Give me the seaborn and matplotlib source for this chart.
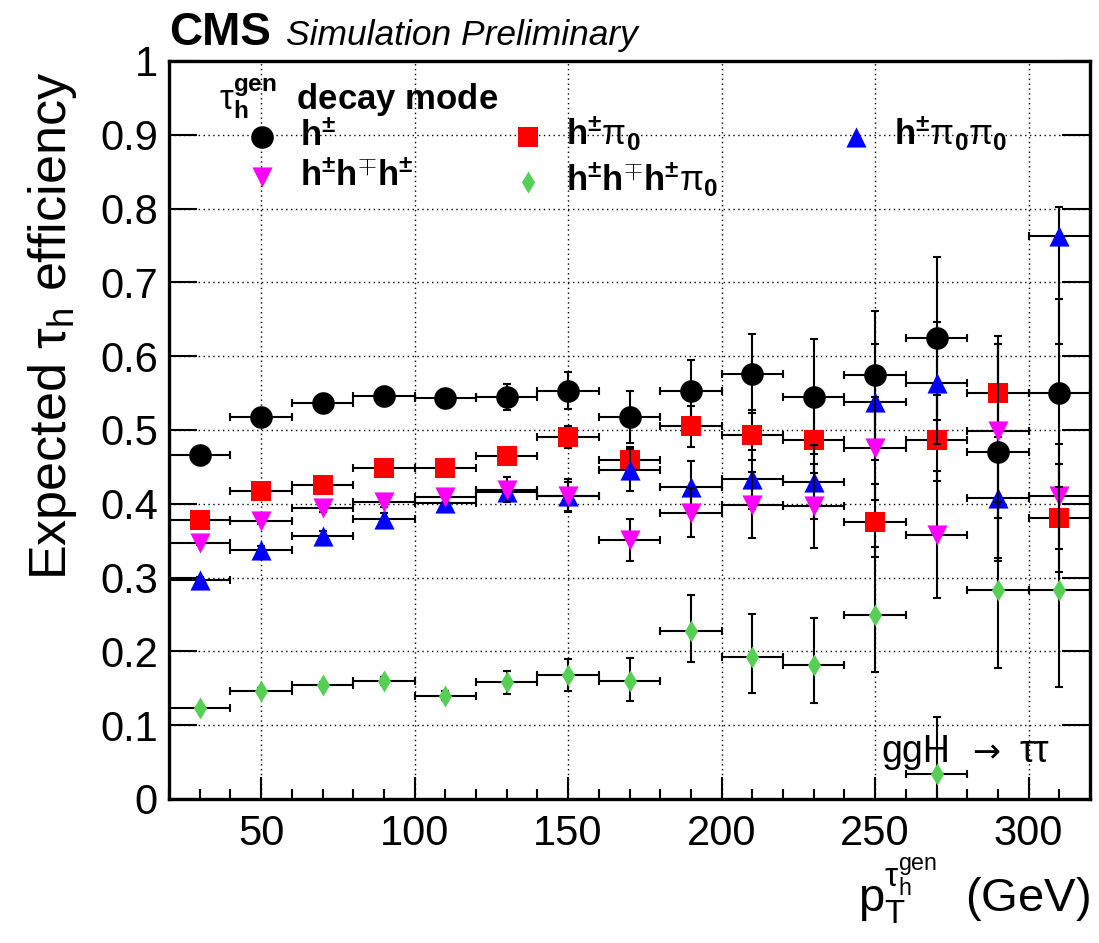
import numpy as np
import pandas as pd
import matplotlib
matplotlib.use("Agg")
import matplotlib.pyplot as plt
from matplotlib.ticker import MultipleLocator, FixedLocator, FuncFormatter
import seaborn as sns

# ---------------- data ----------------
pt_centers = [30, 50, 70, 90, 110, 130, 150, 170, 190, 210, 230, 250, 270, 290, 310]
pt_halfwidth = [10] * 15

eff_h = [0.466, 0.518, 0.536, 0.546, 0.543, 0.545, 0.553, 0.518, 0.553, 0.576,
         0.545, 0.574, 0.624, 0.470, 0.550]
err_h_lo = [0.004, 0.004, 0.005, 0.006, 0.007, 0.018, 0.025, 0.035, 0.040, 0.053,
            0.078, 0.087, 0.110, 0.147, 0.128]
err_h_hi = [0.004, 0.004, 0.005, 0.006, 0.007, 0.018, 0.025, 0.035, 0.042, 0.054,
            0.078, 0.087, 0.110, 0.147, 0.128]

eff_hpi0 = [0.378, 0.418, 0.426, 0.449, 0.449, 0.465, 0.490, 0.459, 0.505, 0.493,
            0.487, 0.376, 0.487, 0.550, 0.381]
err_hpi0_lo = [0.004, 0.005, 0.006, 0.007, 0.008, 0.010, 0.015, 0.018, 0.028, 0.034,
               0.045, 0.048, 0.056, 0.078, 0.073]
err_hpi0_hi = [0.004, 0.005, 0.006, 0.007, 0.008, 0.010, 0.015, 0.018, 0.027, 0.034,
               0.045, 0.051, 0.060, 0.078, 0.073]

eff_hpi0pi0 = [0.297, 0.338, 0.357, 0.380, 0.401, 0.416, 0.410, 0.446, 0.423, 0.433,
               0.430, 0.538, 0.564, 0.408, 0.763]
err_hpi0pi0_lo = [0.004, 0.005, 0.006, 0.008, 0.010, 0.012, 0.020, 0.028, 0.035, 0.040,
                  0.050, 0.078, 0.083, 0.082, 0.146]
err_hpi0pi0_hi = [0.004, 0.005, 0.006, 0.008, 0.010, 0.012, 0.020, 0.028, 0.035, 0.040,
                  0.050, 0.078, 0.083, 0.082, 0.039]

eff_3h = [0.347, 0.377, 0.394, 0.402, 0.409, 0.419, 0.411, 0.351, 0.388, 0.398,
          0.397, 0.475, 0.358, 0.499, 0.410]
err_3h_lo = [0.003, 0.004, 0.005, 0.006, 0.008, 0.017, 0.022, 0.028, 0.033, 0.045,
             0.057, 0.070, 0.086, 0.118, 0.071]
err_3h_hi = [0.003, 0.004, 0.005, 0.006, 0.008, 0.017, 0.022, 0.028, 0.033, 0.045,
             0.057, 0.070, 0.086, 0.118, 0.071]

eff_3hpi0 = [0.123, 0.146, 0.154, 0.160, 0.140, 0.158, 0.168, 0.160, 0.227, 0.193,
             0.181, 0.249, 0.034, 0.283, 0.283]
err_3hpi0_lo = [0.003, 0.004, 0.004, 0.005, 0.006, 0.016, 0.022, 0.027, 0.042, 0.049,
                0.051, 0.077, 0.034, 0.106, 0.131]
err_3hpi0_hi = [0.003, 0.004, 0.004, 0.005, 0.006, 0.016, 0.022, 0.031, 0.049, 0.058,
                0.064, 0.093, 0.077, 0.120, 0.140]

labels = [r'$\mathbf{h^{\pm}}$',
          r'$\mathbf{h^{\pm}}\mathrm{\pi}_{\mathbf{0}}$',
          r'$\mathbf{h^{\pm}}\mathrm{\pi}_{\mathbf{0}}\mathrm{\pi}_{\mathbf{0}}$',
          r'$\mathbf{h^{\pm}h^{\mp}h^{\pm}}$',
          r'$\mathbf{h^{\pm}h^{\mp}h^{\pm}}\mathrm{\pi}_{\mathbf{0}}$']
legend_title = r'$\mathrm{\tau}_{\mathbf{h}}^{\mathbf{gen}}$  decay mode'

yticks = [0.0, 0.1, 0.2, 0.3, 0.4, 0.5, 0.6, 0.7, 0.8, 0.9, 1.0]
xticks = [50, 100, 150, 200, 250, 300]

# ---------------- style ----------------
sns.set_theme(style="white")
plt.rcParams['font.family'] = ['Liberation Sans', 'DejaVu Sans']
plt.rcParams['mathtext.fontset'] = 'custom'
plt.rcParams['mathtext.rm'] = 'Liberation Sans'
plt.rcParams['mathtext.it'] = 'Liberation Sans:italic'
plt.rcParams['mathtext.bf'] = 'Liberation Sans:bold'
plt.rcParams['mathtext.sf'] = 'Liberation Sans'
for k in ['text.color', 'axes.labelcolor', 'xtick.color', 'ytick.color', 'axes.edgecolor']:
    plt.rcParams[k] = 'black'

W, H = 1099, 943
fig = plt.figure(figsize=(W / 100, H / 100), dpi=100)
L, R, T, B = 169, 1090, 61, 799
ax = fig.add_axes([L / W, 1 - B / H, (R - L) / W, (B - T) / H])

series = [
    (eff_h, err_h_lo, err_h_hi, 'o', '#000000', 265, labels[0]),
    (eff_hpi0, err_hpi0_lo, err_hpi0_hi, 's', '#ff0000', 205, labels[1]),
    (eff_hpi0pi0, err_hpi0pi0_lo, err_hpi0pi0_hi, '^', '#0000ff', 210, labels[2]),
    (eff_3h, err_3h_lo, err_3h_hi, 'v', '#ff00ff', 210, labels[3]),
    (eff_3hpi0, err_3hpi0_lo, err_3hpi0_hi, 'd', '#55d055', 125, labels[4]),
]

for i, (vals, lo, hi, mk, col, s, lab) in enumerate(series):
    df = pd.DataFrame({'pt': pt_centers, 'eff': vals})
    ax.errorbar(df['pt'], df['eff'], xerr=pt_halfwidth, yerr=[lo, hi], fmt='none',
                ecolor='black', elinewidth=1.5, capsize=2.8, capthick=1.5,
                zorder=3 + 2 * i)
    sns.scatterplot(data=df, x='pt', y='eff', marker=mk, color=col, s=s,
                    linewidth=0, label=lab, zorder=4 + 2 * i, ax=ax, legend=True)

ax.set_xlim(20, 320)
ax.set_ylim(0, 1)
ax.xaxis.set_major_locator(FixedLocator(xticks))
ax.xaxis.set_minor_locator(MultipleLocator(10))
ax.yaxis.set_major_locator(FixedLocator(yticks))
ax.yaxis.set_major_formatter(FuncFormatter(lambda v, p: f"{v:g}"))
ax.grid(True, which='major', linestyle=(0, (1, 2.5)), color='black', linewidth=1.0)
ax.set_axisbelow(True)
for sp in ax.spines.values():
    sp.set_linewidth(2.4)
    sp.set_color('black')
    sp.set_visible(True)
ax.tick_params(axis='x', which='major', direction='in', length=16, width=1.5,
               labelsize=30, pad=11, top=False, bottom=True)
ax.tick_params(axis='x', which='minor', direction='in', length=7, width=1.5,
               top=False, bottom=True)
ax.tick_params(axis='y', which='major', direction='in', length=20, width=1.5,
               labelsize=30, pad=8, left=True, right=True)

ax.set_ylabel(r'Expected $\mathrm{\tau_{h}}$ efficiency', fontsize=37.5, loc='top')
ax.yaxis.set_label_coords(-0.098, 0.985)
ax.set_xlabel(r'$\mathrm{p}_{\mathrm{T}}^{\mathrm{\tau}_{\mathrm{h}}^{\mathrm{gen}}}$  (GeV)',
              fontsize=34, loc='right', labelpad=1)

# legend: title as text, two legend blocks (columns 1-2, column 3)
handles, labs = ax.get_legend_handles_labels()
fig.text(219 / W, 1 - 99 / H, legend_title,
         fontsize=25, fontweight='bold', va='center', ha='left')
common = dict(loc='upper left', bbox_transform=fig.transFigure, frameon=False,
              prop={'weight': 'bold', 'size': 25}, handlelength=1.2,
              handletextpad=0.5, labelspacing=0.2, borderpad=0, borderaxespad=0)
leg1 = ax.legend([handles[0], handles[3], handles[1], handles[4]],
                 [labs[0], labs[3], labs[1], labs[4]], ncol=2,
                 bbox_to_anchor=(241 / W, 1 - 115 / H), columnspacing=2.7, **common)
ax.add_artist(leg1)
leg2 = ax.legend([handles[2]], [labs[2]], ncol=1,
                 bbox_to_anchor=(835 / W, 1 - 115 / H), **common)

fig.text(L / W, 1 - 33 / H, 'CMS', fontsize=33, fontweight='bold', va='center', ha='left')
fig.text(286 / W, 1 - 35 / H, 'Simulation Preliminary', fontsize=25.5, style='italic',
         va='center', ha='left')

# "ggH -> tautau" label (arrow drawn with DejaVu Sans, which has a full-size arrow)
yb = (B - 762) / (B - T)
ax.text((950 - L) / (R - L), yb, 'ggH', transform=ax.transAxes, fontsize=27,
        ha='right', va='baseline', zorder=20)
ax.text((986 - L) / (R - L), yb, '\u2192', transform=ax.transAxes, fontsize=24,
        family='DejaVu Sans', ha='center', va='baseline', zorder=20)
ax.text((1020 - L) / (R - L), yb, '\u03c4\u03c4', transform=ax.transAxes, fontsize=27,
        ha='left', va='baseline', zorder=20)

fig.savefig('out.png', dpi=100)
